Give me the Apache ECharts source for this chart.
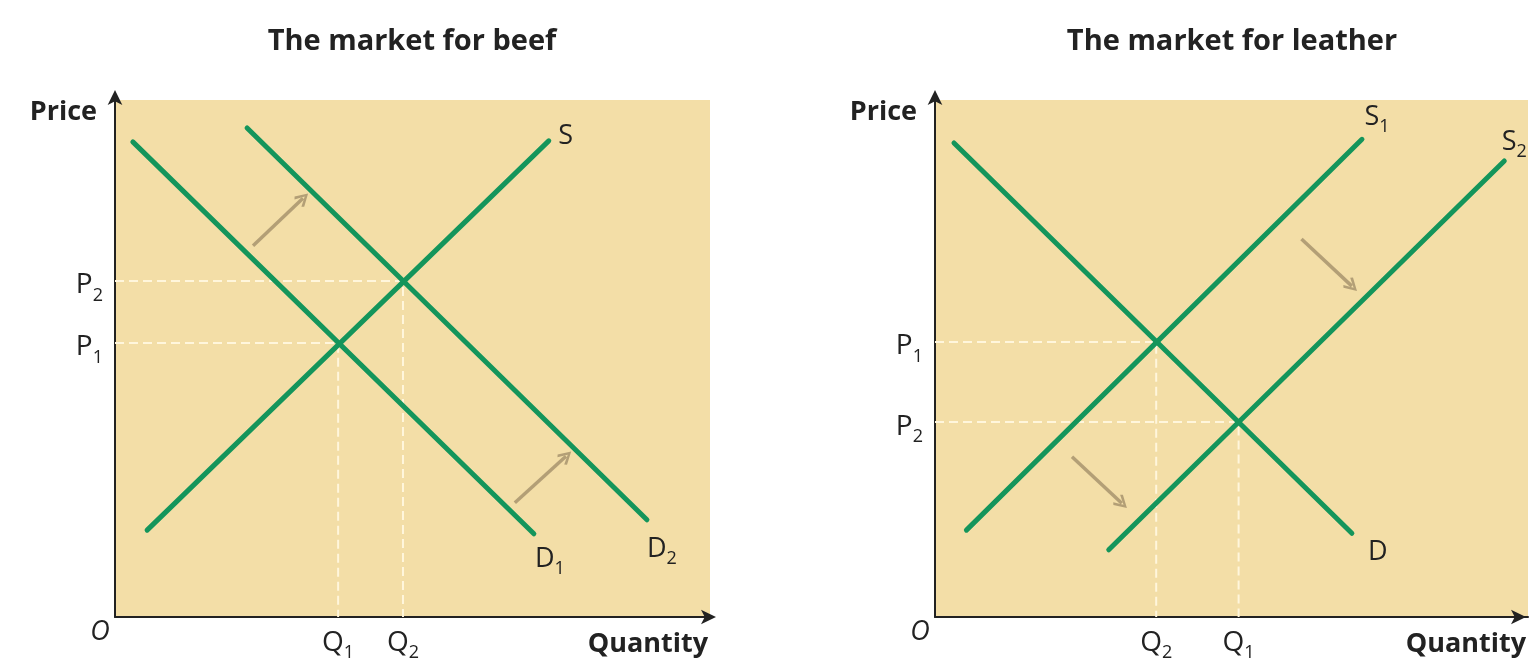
<!DOCTYPE html>
<html>
<head>
<meta charset="utf-8">
<title>The market for beef / leather</title>
<script src="https://cdn.jsdelivr.net/npm/echarts@6/dist/echarts.min.js"></script>
<style>
  html, body { margin: 0; padding: 0; background: #fff; }
  #chart { width: 1534px; height: 669px; }
</style>
</head>
<body>
<div id="chart"></div>
<script>
// both panels use a 0-100 scale on each axis
// beef market (left)
const beefSupply = [[5.4, 16.8], [72.9, 92.1]]
const beefDemand1 = [[3.0, 91.9], [70.4, 16.1]]
const beefDemand2 = [[22.2, 94.6], [89.4, 18.8]]
const beefEquilibria = [[37.5, 53.0], [48.4, 65.0]]
const beefShiftArrows = [[[23.2, 71.8], [31.6, 81.0]], [[67.2, 22.1], [75.8, 31.1]]]
const beefQtyLabels = ['Q1', 'Q2']
const beefPriceLabels = ['P1', 'P2']

// leather market (right)
const leatherDemand = [[3.2, 91.7], [70.3, 16.2]]
const leatherSupply1 = [[5.3, 16.8], [72.0, 92.4]]
const leatherSupply2 = [[29.3, 13.0], [96.0, 88.2]]
const leatherEquilibria = [[37.3, 53.2], [51.2, 37.7]]
const leatherShiftArrows = [[[61.8, 73.1], [70.3, 64.0]], [[23.1, 31.0], [31.5, 22.0]]]
const leatherQtyLabels = ['Q2', 'Q1']
const leatherPriceLabels = ['P1', 'P2']

const BG = '#f3dea7'
const GREEN = '#14955b'
const ARROW = '#b39f76'
const INK = '#222'
const GUIDE = '#fff6dc'
const FONT = 'Open Sans'
// open chevron head for the shift arrows (points up, gets rotated along the line)
const CHEVRON = 'path://M0,9 L7,0 L14,9 L12,10.5 L7,3.5 L2,10.5 Z'

const chart = echarts.init(document.getElementById('chart'))

// "Q1" -> big letter plus subscript
const tickText = t => (t.length > 1 ? `{m|${t[0]}}{s|${t.slice(1)}}` : `{m|${t}}`)

const tokenBase = { fontFamily: FONT, color: INK, verticalAlign: 'bottom' }
const richX = {
  m: { ...tokenBase, fontSize: 28, padding: [10, 0, 5, 0] },
  s: { ...tokenBase, fontSize: 18 },
  o: { ...tokenBase, fontSize: 27, fontStyle: 'italic', padding: [0, 30, 0, 0] }
}
const richY = {
  m: { ...tokenBase, fontSize: 28, padding: [14, 0, 5, 0] },
  s: { ...tokenBase, fontSize: 18 }
}
const richCurve = {
  m: { ...tokenBase, fontSize: 27, padding: [0, 0, 5, 0] },
  s: { ...tokenBase, fontSize: 18 }
}

const nameStyle = { fontFamily: FONT, fontWeight: 'bold', fontSize: 27, color: INK }

const xAxisFor = (g, eq, labels, arrowOffset) => {
  const ticks = eq.map(p => p[0])
  return {
    type: 'value', gridIndex: g, min: 0, max: 100,
    splitLine: { show: false }, axisTick: { show: false },
    axisLine: {
      onZero: false, symbol: ['none', 'arrow'], symbolSize: [11, 15], symbolOffset: [0, arrowOffset],
      lineStyle: { color: INK, width: 2 }
    },
    axisLabel: {
      customValues: [0].concat(ticks), margin: 2, rich: richX,
      formatter: v => (v === 0 ? '{o|O}' : tickText(labels[ticks.indexOf(v)]))
    },
    name: 'Quantity', nameLocation: 'end', nameGap: -2,
    nameTextStyle: { ...nameStyle, align: 'right', verticalAlign: 'top', padding: [14, 0, 0, 0] }
  }
}

const yAxisFor = (g, eq, labels) => {
  const ticks = eq.map(p => p[1])
  return {
    type: 'value', gridIndex: g, min: 0, max: 100,
    splitLine: { show: false }, axisTick: { show: false },
    axisLine: {
      onZero: false, symbol: ['none', 'arrow'], symbolSize: [11, 15], symbolOffset: [0, 10],
      lineStyle: { color: INK, width: 2 }
    },
    axisLabel: {
      customValues: ticks, margin: 12, rich: richY,
      formatter: v => tickText(labels[ticks.indexOf(v)])
    },
    name: 'Price', nameLocation: 'end', nameGap: -12,
    nameTextStyle: { ...nameStyle, align: 'right', verticalAlign: 'middle', padding: [0, 18, 0, 0] }
  }
}

const curveSeries = (g, pts, text, offset) => ({
  type: 'line', xAxisIndex: g, yAxisIndex: g, silent: true, z: 3,
  symbol: 'circle', symbolSize: 2, itemStyle: { color: 'rgba(0,0,0,0)' },
  lineStyle: { color: GREEN, width: 5, cap: 'round' },
  data: [
    pts[0],
    { value: pts[1], label: { show: true, position: 'inside', offset, formatter: tickText(text), rich: richCurve } }
  ]
})

// dashed guides from the axes to an equilibrium point
const guideSeries = (g, pt) => ({
  type: 'line', xAxisIndex: g, yAxisIndex: g, silent: true, z: 1, symbol: 'none',
  lineStyle: { color: GUIDE, width: 2, type: [9, 5] },
  data: [[0, pt[1]], pt, [pt[0], 0]]
})

const shiftSeries = (g, arrows) => ({
  type: 'lines', coordinateSystem: 'cartesian2d', xAxisIndex: g, yAxisIndex: g, silent: true, z: 2,
  symbol: ['none', CHEVRON], symbolSize: [18, 14],
  lineStyle: { color: ARROW, width: 3.5, opacity: 1, curveness: 0 },
  data: arrows.map(c => ({ coords: c }))
})

const titleStyle = { fontFamily: FONT, fontWeight: 'bold', fontSize: 29, color: INK }

chart.setOption({
  animation: false,
  title: [
    { text: 'The market for beef', left: 407, top: 22, textAlign: 'center', textStyle: titleStyle },
    { text: 'The market for leather', left: 1227, top: 22, textAlign: 'center', textStyle: titleStyle }
  ],
  grid: [
    { left: 115, top: 100, width: 595, height: 517, show: true, backgroundColor: BG, borderWidth: 0 },
    { left: 935, top: 100, width: 593, height: 517, show: true, backgroundColor: BG, borderWidth: 0 }
  ],
  xAxis: [
    xAxisFor(0, beefEquilibria, beefQtyLabels, 6),
    xAxisFor(1, leatherEquilibria, leatherQtyLabels, -2)
  ],
  yAxis: [
    yAxisFor(0, beefEquilibria, beefPriceLabels),
    yAxisFor(1, leatherEquilibria, leatherPriceLabels)
  ],
  series: [
    ...beefEquilibria.map(p => guideSeries(0, p)),
    shiftSeries(0, beefShiftArrows),
    curveSeries(0, beefSupply, 'S', [17, -2]),
    curveSeries(0, beefDemand1, 'D1', [16, 28]),
    curveSeries(0, beefDemand2, 'D2', [15, 32]),

    ...leatherEquilibria.map(p => guideSeries(1, p)),
    shiftSeries(1, leatherShiftArrows),
    curveSeries(1, leatherDemand, 'D', [26, 22]),
    curveSeries(1, leatherSupply1, 'S1', [15, -19]),
    curveSeries(1, leatherSupply2, 'S2', [10, -16])
  ]
})

window.addEventListener('resize', () => chart.resize())
</script>
</body>
</html>
